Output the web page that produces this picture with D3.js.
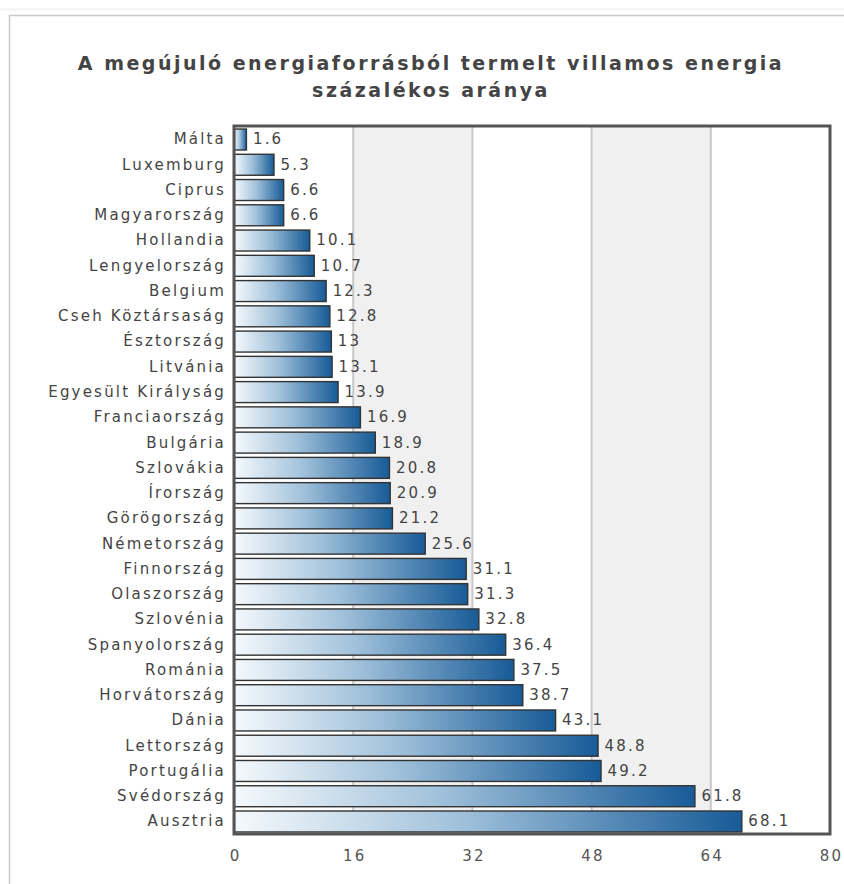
<!DOCTYPE html>
<html>
<head>
<meta charset="utf-8">
<style>
  body { margin: 0; background: #fff; }
  svg { display: block; }
  .lbl text { font-family: "DejaVu Sans", Verdana, sans-serif; font-size: 15px; fill: #444; letter-spacing: 2.2px; }
  .title { font-family: "DejaVu Sans", Verdana, sans-serif; font-size: 19px; font-weight: bold; fill: #444; letter-spacing: 2.5px; }
  .axis text { font-family: "DejaVu Sans", Verdana, sans-serif; font-size: 15px; fill: #555; letter-spacing: 2.2px; }
  .axis path, .axis line { display: none; }
</style>
</head>
<body>
<script src="https://d3js.org/d3.v7.min.js"></script>
<script>
// countries, top to bottom
var countries = ["Málta", "Luxemburg", "Ciprus", "Magyarország", "Hollandia", "Lengyelország",
  "Belgium", "Cseh Köztársaság", "Észtország", "Litvánia", "Egyesült Királyság", "Franciaország",
  "Bulgária", "Szlovákia", "Írország", "Görögország", "Németország", "Finnország", "Olaszország",
  "Szlovénia", "Spanyolország", "Románia", "Horvátország", "Dánia", "Lettország", "Portugália",
  "Svédország", "Ausztria"];
var values = [1.6, 5.3, 6.6, 6.6, 10.1, 10.7, 12.3, 12.8, 13, 13.1, 13.9, 16.9, 18.9, 20.8, 20.9,
  21.2, 25.6, 31.1, 31.3, 32.8, 36.4, 37.5, 38.7, 43.1, 48.8, 49.2, 61.8, 68.1];
var ticks = [0, 16, 32, 48, 64, 80];
var titleLines = ["A megújuló energiaforrásból termelt villamos energia", "százalékos aránya"];

var W = 844, H = 884;
var margin = {top: 126, right: 14, bottom: 50, left: 234};
var width = W - margin.left - margin.right;
var height = H - margin.top - margin.bottom;

var svg = d3.select("body").append("svg").attr("width", W).attr("height", H);

// outer frame
svg.append("rect").attr("x", 0).attr("y", 8).attr("width", W).attr("height", 3).attr("fill", "#f7f7f7");
svg.append("path").attr("d", "M9.5," + H + "V15.5H" + W).attr("fill", "none").attr("stroke", "#c8c8c8").attr("stroke-width", 1.5);

svg.selectAll(".title").data(titleLines).enter().append("text")
  .attr("class", "title").attr("x", 431).attr("y", function(d, i) { return 70 + i * 27; })
  .attr("text-anchor", "middle").text(function(d) { return d; });

var x = d3.scaleLinear().domain([0, 80]).range([0, width]);
var y = d3.scaleBand().domain(countries).range([0, height]).paddingInner(0.17).paddingOuter(0.1);

var defs = svg.append("defs");
var grad = defs.append("linearGradient").attr("id", "bargrad").attr("x1", 0).attr("x2", 1).attr("y1", 0).attr("y2", 0);
grad.append("stop").attr("offset", "0%").attr("stop-color", "#f5f9fc");
grad.append("stop").attr("offset", "45%").attr("stop-color", "#9fc0da");
grad.append("stop").attr("offset", "100%").attr("stop-color", "#175b97");

var g = svg.append("g").attr("transform", "translate(" + margin.left + "," + margin.top + ")");

// alternating bands
for (var i = 0; i < ticks.length - 1; i++) {
  if (i % 2 === 1) {
    g.append("rect").attr("x", x(ticks[i])).attr("y", 0)
      .attr("width", x(ticks[i + 1]) - x(ticks[i])).attr("height", height).attr("fill", "#f0f0f0");
  }
}
g.selectAll(".grid").data(ticks.slice(1, -1)).enter().append("line")
  .attr("x1", function(d) { return x(d); }).attr("x2", function(d) { return x(d); })
  .attr("y1", 0).attr("y2", height).attr("stroke", "#c8c8c8").attr("stroke-width", 2);

var data = countries.map(function(c, i) { return {name: c, value: values[i]}; });

g.selectAll(".bar").data(data).enter().append("rect")
  .attr("x", 0.5).attr("y", function(d) { return y(d.name) + 0.5; })
  .attr("width", function(d) { return x(d.value); }).attr("height", y.bandwidth())
  .attr("fill", "url(#bargrad)").attr("stroke", "#333").attr("stroke-width", 1.4);

var vl = g.append("g").attr("class", "lbl");
vl.selectAll("text").data(data).enter().append("text")
  .attr("x", function(d) { return x(d.value) + 7; })
  .attr("y", function(d) { return y(d.name) + y.bandwidth() / 2; })
  .attr("dy", "0.36em").text(function(d) { return d.value; });

var cl = g.append("g").attr("class", "lbl");
cl.selectAll("text").data(data).enter().append("text")
  .attr("x", -8).attr("y", function(d) { return y(d.name) + y.bandwidth() / 2; })
  .attr("dy", "0.36em").attr("text-anchor", "end").text(function(d) { return d.name; });

// plot border
g.append("rect").attr("x", 0).attr("y", 0).attr("width", width).attr("height", height)
  .attr("fill", "none").attr("stroke", "#555").attr("stroke-width", 3);

g.append("g").attr("class", "axis").attr("transform", "translate(1," + height + ")")
  .call(d3.axisBottom(x).tickValues(ticks).tickSize(0).tickPadding(16));
</script>
</body>
</html>
